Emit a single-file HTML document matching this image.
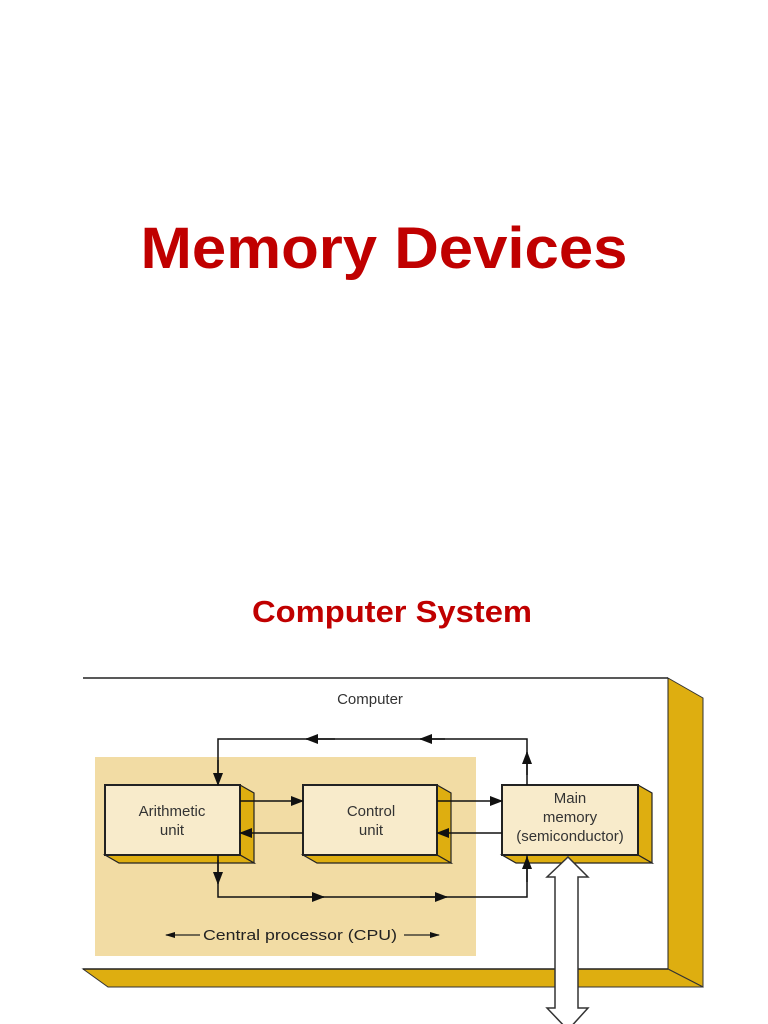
<!DOCTYPE html>
<html><head><style>html,body{margin:0;padding:0;background:#fff;}svg{display:block}</style></head>
<body>
<svg width="768" height="1024" viewBox="0 0 768 1024" xmlns="http://www.w3.org/2000/svg" font-family="Liberation Sans, Arial, sans-serif">
<defs>
<marker id="ah" markerWidth="13" markerHeight="10" refX="12" refY="5" orient="auto" markerUnits="userSpaceOnUse"><path d="M0,0 L13,5 L0,10 Z" fill="#111"/></marker>
<marker id="sh" markerWidth="10" markerHeight="6" refX="9" refY="3" orient="auto" markerUnits="userSpaceOnUse"><path d="M0,0 L10,3 L0,6 Z" fill="#111"/></marker>
</defs>
<text x="384" y="268" text-anchor="middle" font-size="58" font-weight="bold" fill="#c00000" textLength="487" lengthAdjust="spacingAndGlyphs">Memory Devices</text>
<text x="392" y="622" text-anchor="middle" font-size="31" font-weight="bold" fill="#c00000" textLength="280" lengthAdjust="spacingAndGlyphs">Computer System</text>
<polygon points="668,678 703,698 703,987 668,969" fill="#deae10" stroke="#333" stroke-width="1"/>
<polygon points="83,969 668,969 703,987 108,987" fill="#deae10" stroke="#333" stroke-width="1"/>
<line x1="83" y1="678" x2="668" y2="678" stroke="#222" stroke-width="1.5"/>
<line x1="668" y1="678" x2="668" y2="969" stroke="#222" stroke-width="1"/>
<line x1="83" y1="969" x2="668" y2="969" stroke="#222" stroke-width="1.5"/>
<text x="370" y="704" text-anchor="middle" font-size="15" fill="#333">Computer</text>
<rect x="95" y="757" width="381" height="199" fill="#f2dca4"/>
<text x="300" y="940" text-anchor="middle" font-size="15" fill="#222" textLength="194" lengthAdjust="spacingAndGlyphs">Central processor (CPU)</text>
<line x1="200" y1="935" x2="166" y2="935" stroke="#222" stroke-width="1.3" marker-end="url(#sh)"/>
<line x1="404" y1="935" x2="439" y2="935" stroke="#222" stroke-width="1.3" marker-end="url(#sh)"/>
<g stroke="#222" stroke-width="1.2">
<polygon points="240,785 254,793 254,863 240,855" fill="#deae10"/>
<polygon points="105,855 240,855 254,863 119,863" fill="#deae10"/>
<rect x="105" y="785" width="135" height="70" fill="#f8ebcb" stroke-width="2"/>
<polygon points="437,785 451,793 451,863 437,855" fill="#deae10"/>
<polygon points="303,855 437,855 451,863 317,863" fill="#deae10"/>
<rect x="303" y="785" width="134" height="70" fill="#f8ebcb" stroke-width="2"/>
<polygon points="638,785 652,793 652,863 638,855" fill="#deae10"/>
<polygon points="502,855 638,855 652,863 516,863" fill="#deae10"/>
<rect x="502" y="785" width="136" height="70" fill="#f8ebcb" stroke-width="2"/>
</g>
<g font-size="15" fill="#333" text-anchor="middle">
<text x="172" y="816">Arithmetic</text><text x="172" y="835">unit</text>
<text x="371" y="816">Control</text><text x="371" y="835">unit</text>
<text x="570" y="803">Main</text><text x="570" y="822">memory</text><text x="570" y="841">(semiconductor)</text>
</g>
<g stroke="#111" stroke-width="1.5" fill="none">
<polyline points="527,785 527,739 218,739 218,785"/>
<line x1="527" y1="775" x2="527" y2="752" marker-end="url(#ah)"/>
<line x1="445" y1="739" x2="420" y2="739" marker-end="url(#ah)"/>
<line x1="335" y1="739" x2="306" y2="739" marker-end="url(#ah)"/>
<line x1="218" y1="760" x2="218" y2="785" marker-end="url(#ah)"/>
<line x1="240" y1="801" x2="303" y2="801" marker-end="url(#ah)"/>
<line x1="303" y1="833" x2="240" y2="833" marker-end="url(#ah)"/>
<line x1="437" y1="801" x2="502" y2="801" marker-end="url(#ah)"/>
<line x1="502" y1="833" x2="437" y2="833" marker-end="url(#ah)"/>
<polyline points="218,855 218,897 527,897 527,855"/>
<line x1="218" y1="860" x2="218" y2="884" marker-end="url(#ah)"/>
<line x1="290" y1="897" x2="324" y2="897" marker-end="url(#ah)"/>
<line x1="420" y1="897" x2="447" y2="897" marker-end="url(#ah)"/>
<line x1="527" y1="882" x2="527" y2="857" marker-end="url(#ah)"/>
</g>
<polygon points="568,857 588,877 578,877 578,1008 588,1008 568,1030 547,1008 555,1008 555,877 547,877" fill="#fff" stroke="#333" stroke-width="1.5"/>
</svg>
</body></html>
